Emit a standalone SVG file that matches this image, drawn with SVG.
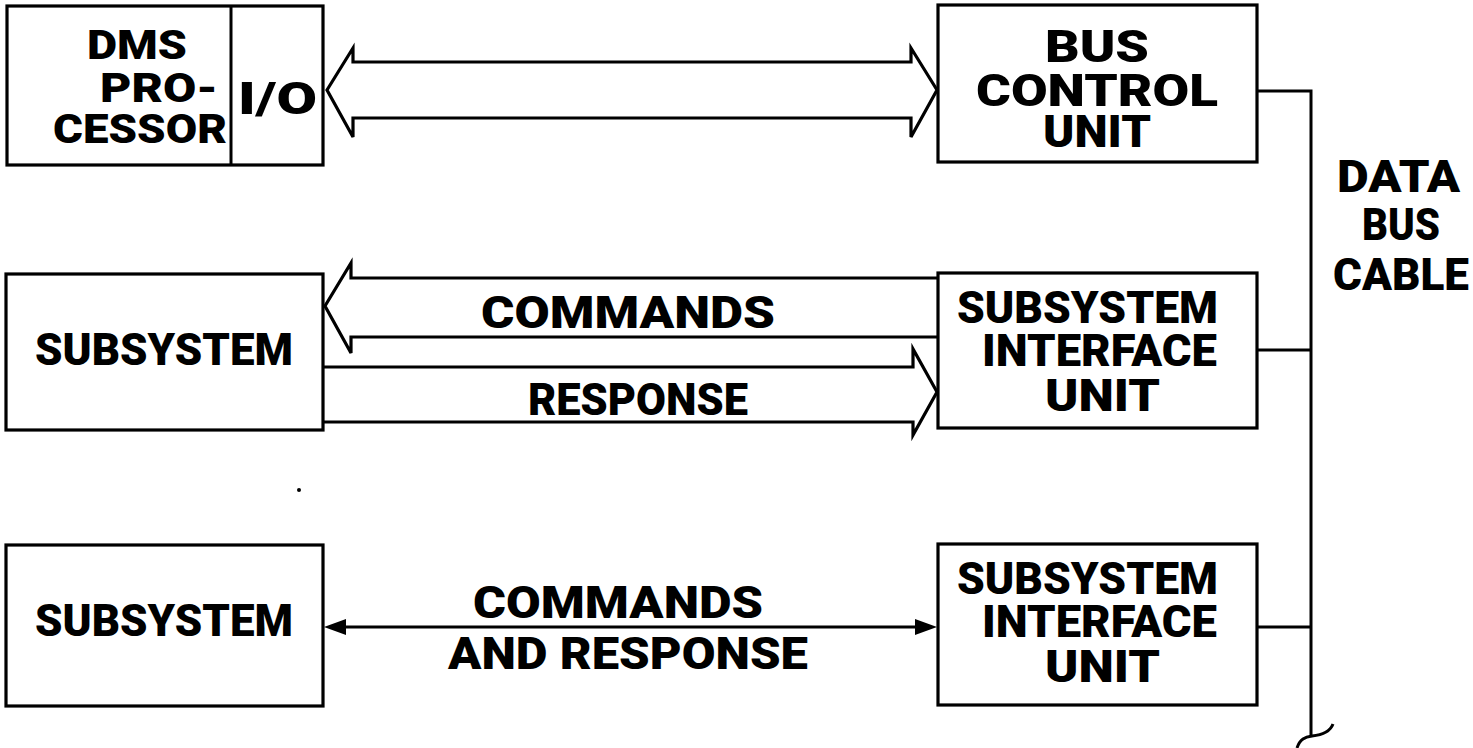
<svg xmlns="http://www.w3.org/2000/svg" width="1473" height="748" viewBox="0 0 1473 748">
<style>
.box{fill:#fff;stroke:#000;stroke-width:3.2}
.ln{fill:none;stroke:#000;stroke-width:3}
.arr{fill:#fff;stroke:#000;stroke-width:3.2;stroke-linejoin:miter}
.t{font-family:Roboto,"Liberation Sans",Arial,sans-serif;font-weight:900;font-size:44px;fill:#000}
.s{font-size:41px}
</style>
<rect width="1473" height="748" fill="#fff"/>
<g id="connectors">
<path class="arr" d="M327,90 L353,48 L353,62 L911,62 L911,48 L937,90 L911,137 L911,118 L353,118 L353,137 Z"/>
<path class="arr" d="M938,278 L351,278 L351,263 L325,306 L351,353 L351,337 L938,337"/>
<path class="arr" d="M323,367 L913,367 L913,349 L937,392 L913,435 L913,422 L323,422"/>
<line class="ln" x1="340" y1="627" x2="922" y2="627"/>
<polygon points="324,627 346,619 346,635" fill="#000"/>
<polygon points="937,627 915,619 915,635" fill="#000"/>
<path class="ln" d="M1257,91 L1311,91 L1311,736"/>
<line class="ln" x1="1257" y1="350" x2="1311" y2="350"/>
<line class="ln" x1="1257" y1="627" x2="1311" y2="627"/>
<path class="ln" stroke-width="2.5" d="M1297,748 C1300,739 1305,737 1312,736 C1322,735 1330,732 1333,724"/>
<text class="t" x="481" y="328" textLength="294" lengthAdjust="spacingAndGlyphs">COMMANDS</text>
<text class="t" x="528" y="415" textLength="220" lengthAdjust="spacingAndGlyphs">RESPONSE</text>
<text class="t" x="473" y="618" textLength="290" lengthAdjust="spacingAndGlyphs">COMMANDS</text>
<text class="t" x="448" y="669" textLength="360" lengthAdjust="spacingAndGlyphs">AND RESPONSE</text>
</g>
<g id="dms-processor">
<rect class="box" x="7" y="6" width="316" height="159"/>
<line class="ln" stroke-width="3.2" x1="231" y1="6" x2="231" y2="165"/>
<text class="t s" x="87" y="59" textLength="100" lengthAdjust="spacingAndGlyphs">DMS</text>
<text class="t s" x="100" y="102" textLength="118" lengthAdjust="spacingAndGlyphs">PRO-</text>
<text class="t s" x="53" y="143" textLength="174" lengthAdjust="spacingAndGlyphs">CESSOR</text>
<text class="t" x="238" y="114" textLength="79" lengthAdjust="spacingAndGlyphs">I/O</text>
</g>
<g id="bus-control-unit">
<rect class="box" x="938" y="5" width="319" height="157"/>
<text class="t" x="1045" y="62" textLength="104" lengthAdjust="spacingAndGlyphs">BUS</text>
<text class="t" x="976" y="106" textLength="242" lengthAdjust="spacingAndGlyphs">CONTROL</text>
<text class="t" x="1043" y="147" textLength="108" lengthAdjust="spacingAndGlyphs">UNIT</text>
</g>
<g id="data-bus-cable">
<text class="t" x="1337" y="192" textLength="123" lengthAdjust="spacingAndGlyphs">DATA</text>
<text class="t" x="1362" y="240" textLength="78" lengthAdjust="spacingAndGlyphs">BUS</text>
<text class="t" x="1333" y="290" textLength="136" lengthAdjust="spacingAndGlyphs">CABLE</text>
</g>
<g id="subsystem-1">
<rect class="box" x="6" y="274" width="317" height="156"/>
<text class="t" x="35" y="365" textLength="258" lengthAdjust="spacingAndGlyphs">SUBSYSTEM</text>
</g>
<g id="siu-1">
<rect class="box" x="938" y="273" width="319" height="155"/>
<text class="t" x="957" y="323" textLength="261" lengthAdjust="spacingAndGlyphs">SUBSYSTEM</text>
<text class="t" x="982" y="366" textLength="235" lengthAdjust="spacingAndGlyphs">INTERFACE</text>
<text class="t" x="1045" y="411" textLength="115" lengthAdjust="spacingAndGlyphs">UNIT</text>
</g>
<g id="subsystem-2">
<rect class="box" x="6" y="545" width="317" height="161"/>
<text class="t" x="35" y="636" textLength="258" lengthAdjust="spacingAndGlyphs">SUBSYSTEM</text>
</g>
<g id="siu-2">
<rect class="box" x="938" y="544" width="319" height="161"/>
<text class="t" x="957" y="594" textLength="261" lengthAdjust="spacingAndGlyphs">SUBSYSTEM</text>
<text class="t" x="982" y="637" textLength="235" lengthAdjust="spacingAndGlyphs">INTERFACE</text>
<text class="t" x="1045" y="682" textLength="115" lengthAdjust="spacingAndGlyphs">UNIT</text>
</g>
<circle cx="299" cy="490" r="2" fill="#000"/>
</svg>
